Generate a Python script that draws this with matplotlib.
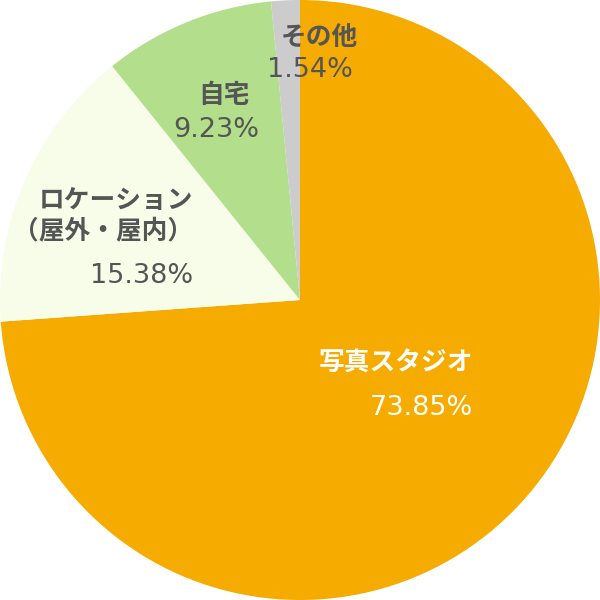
import matplotlib
matplotlib.use("Agg")
import matplotlib.pyplot as plt

plt.rcParams['font.family'] = ['Noto Sans CJK JP', 'DejaVu Sans']

# data
categories = ['写真スタジオ', 'ロケーション\n（屋外・屋内）', '自宅', 'その他']
shares = [73.85, 15.38, 9.23, 1.54]
colors = ['#F6AB00', '#F8FDE9', '#B3DE8B', '#CCCCCC']
text_colors = ['white', '#555555', '#555555', '#555555']

# label anchors (right edge) for name and percentage, in axes data units
name_pos = [(0.577, -0.21), (-0.357, 0.28), (-0.167, 0.683), (0.193, 0.873)]
pct_pos = [(0.577, -0.36), (-0.357, 0.08), (-0.137, 0.567), (0.177, 0.767)]

fig = plt.figure(figsize=(6, 6), dpi=100)
ax = fig.add_axes([0, 0, 1, 1])
ax.pie(shares, colors=colors, startangle=90, counterclock=False, radius=1.0,
       wedgeprops=dict(linewidth=0))
ax.set_xlim(-1, 1)
ax.set_ylim(-1, 1)
ax.set_aspect('equal')
ax.axis('off')

for name, val, tc, (nx, ny), (px, py) in zip(categories, shares, text_colors, name_pos, pct_pos):
    ax.text(nx, ny, name, ha='right', va='center', fontsize=18.5, fontweight='bold',
            color=tc, linespacing=1.15)
    ax.text(px, py, f'{val:.2f}%', ha='right', va='center', fontsize=19.5,
            color=tc, family='DejaVu Sans')

fig.savefig('out.png', dpi=100)
